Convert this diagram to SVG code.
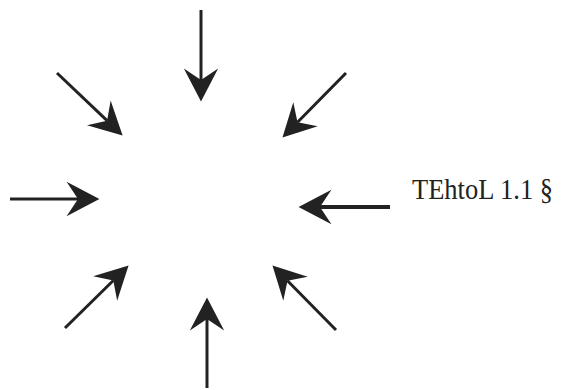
<svg xmlns="http://www.w3.org/2000/svg" width="566" height="390" viewBox="0 0 566 390">
  <defs>
    <!-- notched arrowhead; origin sits at the notch, tip 15px ahead -->
    <marker id="head" markerUnits="userSpaceOnUse" markerWidth="40" markerHeight="40" viewBox="-10 -14 27 28" refX="0" refY="0" orient="auto">
      <path d="M15,0 L-8,-12 L0,0 L-8,12 Z" fill="#222"/>
    </marker>
  </defs>
  <style>
    .arrow { stroke: #222; stroke-width: 3; fill: none; marker-end: url(#head); }
    .thick { stroke-width: 4; }
    .label { font-family: "Liberation Serif", "Times New Roman", serif; font-size: 29px; fill: #222; }
  </style>
  <rect width="566" height="390" fill="#fff"/>
  <g id="connectors">
    <line class="arrow" x1="201" y1="10" x2="201" y2="80"/>
    <line class="arrow" x1="57" y1="73" x2="107.1" y2="120.7"/>
    <line class="arrow" x1="346" y1="73" x2="297.5" y2="122.3"/>
    <line class="arrow" x1="10" y1="199" x2="78" y2="199"/>
    <line class="arrow thick" x1="390" y1="207" x2="320" y2="207"/>
    <line class="arrow" x1="65" y1="328" x2="113.3" y2="280.5"/>
    <line class="arrow" x1="336" y1="330" x2="287.5" y2="280.7"/>
    <line class="arrow" x1="207" y1="388" x2="207" y2="319"/>
  </g>
  <g id="label">
    <text class="label" x="412" y="199" textLength="141" lengthAdjust="spacingAndGlyphs">TEhtoL 1.1 §</text>
  </g>
</svg>
